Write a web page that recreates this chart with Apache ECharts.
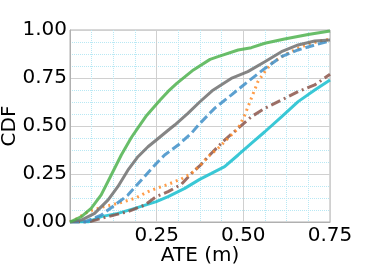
<!DOCTYPE html>
<html><head><meta charset="utf-8">
<script src="https://cdn.jsdelivr.net/npm/echarts@6/dist/echarts.min.js"></script>
<style>html,body{margin:0;padding:0;background:#fff}#c{width:374px;height:267px}</style>
</head><body><div id="c"></div>
<script>
const xTicks = [0, 0.25, 0.5, 0.75];
const yTicks = [0, 0.25, 0.5, 0.75, 1.0];

const greenX = [0, 0.033, 0.061, 0.090, 0.119, 0.148, 0.177, 0.196, 0.221, 0.260, 0.283, 0.308, 0.356, 0.404, 0.427, 0.485, 0.523, 0.562, 0.619, 0.687, 0.75];
const greenY = [0, 0.028, 0.071, 0.141, 0.245, 0.349, 0.44, 0.49, 0.555, 0.635, 0.68, 0.722, 0.792, 0.847, 0.861, 0.896, 0.908, 0.931, 0.953, 0.977, 0.995];

const grayX = [0, 0.033, 0.071, 0.110, 0.138, 0.167, 0.196, 0.225, 0.249, 0.284, 0.302, 0.340, 0.374, 0.410, 0.465, 0.513, 0.562, 0.610, 0.658, 0.706, 0.75];
const grayY = [0, 0.01, 0.045, 0.115, 0.184, 0.27, 0.34, 0.392, 0.427, 0.479, 0.505, 0.566, 0.625, 0.683, 0.748, 0.783, 0.835, 0.887, 0.922, 0.943, 0.948];

const blueX = [0, 0.042, 0.090, 0.129, 0.167, 0.206, 0.249, 0.273, 0.312, 0.350, 0.374, 0.417, 0.465, 0.513, 0.562, 0.610, 0.658, 0.706, 0.75];
const blueY = [0, 0, 0.036, 0.088, 0.14, 0.219, 0.305, 0.349, 0.401, 0.462, 0.512, 0.592, 0.661, 0.731, 0.80, 0.861, 0.896, 0.922, 0.943];

const orangeX = [0, 0.0135, 0.052, 0.090, 0.138, 0.187, 0.225, 0.249, 0.283, 0.321, 0.350, 0.374, 0.398, 0.427, 0.456, 0.485, 0.504, 0.523, 0.542, 0.562, 0.581, 0.619, 0.658, 0.696, 0.75];
const orangeY = [0, 0.01, 0.054, 0.076, 0.097, 0.123, 0.158, 0.175, 0.196, 0.224, 0.253, 0.292, 0.34, 0.384, 0.436, 0.488, 0.557, 0.644, 0.731, 0.783, 0.826, 0.87, 0.905, 0.931, 0.953];

const brownX = [0, 0.052, 0.110, 0.167, 0.215, 0.249, 0.283, 0.321, 0.355, 0.374, 0.408, 0.446, 0.485, 0.523, 0.562, 0.610, 0.658, 0.706, 0.75];
const brownY = [0, 0, 0.028, 0.054, 0.088, 0.132, 0.158, 0.196, 0.262, 0.292, 0.358, 0.427, 0.488, 0.548, 0.592, 0.635, 0.679, 0.714, 0.769];

const cyanX = [0, 0.052, 0.090, 0.138, 0.187, 0.249, 0.283, 0.331, 0.374, 0.408, 0.446, 0.485, 0.523, 0.562, 0.610, 0.658, 0.706, 0.75];
const cyanY = [0, 0, 0.028, 0.045, 0.071, 0.106, 0.132, 0.175, 0.222, 0.253, 0.288, 0.349, 0.41, 0.47, 0.548, 0.627, 0.6875, 0.74];

const pairs = (xs, ys) => xs.map((x, i) => [x, ys[i]]);
const FONT = 'DejaVu Sans';

function mk(name, xs, ys, color, type) {
  return {
    name, type: 'line', data: pairs(xs, ys), showSymbol: false, symbol: 'none',
    lineStyle: { color, width: 3, type, opacity: 0.85, cap: 'butt' },
    animation: false
  };
}

const chart = echarts.init(document.getElementById('c'), null, { renderer: 'canvas' });
chart.setOption({
  animation: false,
  backgroundColor: '#fff',
  grid: { left: 70, right: 44, top: 30, bottom: 45, containLabel: false, outerBoundsMode: 'none',
    show: true, borderColor: '#b0b0b0', borderWidth: 1, backgroundColor: 'transparent' },
  xAxis: {
    type: 'value', min: xTicks[0], max: xTicks[xTicks.length - 1], interval: 0.25,
    name: 'ATE (m)', nameLocation: 'middle', nameGap: 24, nameMoveOverlap: false,
    nameTextStyle: { fontFamily: FONT, fontSize: 20, color: '#000' },
    axisLine: { show: true, lineStyle: { color: '#b0b0b0', width: 1 } },
    axisTick: { show: false },
    axisLabel: { fontFamily: FONT, fontSize: 20, color: '#000', margin: 4,
      formatter: v => (v === 0 ? '' : v.toFixed(2)) },
    splitLine: { show: true, lineStyle: { color: '#d0d0d0', width: 1 } },
    minorTick: { show: false, splitNumber: 4 },
    minorSplitLine: { show: true, lineStyle: { color: '#b8e8f4', width: 1, type: 'dotted' } }
  },
  yAxis: {
    type: 'value', min: yTicks[0], max: yTicks[yTicks.length - 1], interval: 0.25,
    name: 'CDF', nameLocation: 'middle', nameGap: 50, nameRotate: 90, nameMoveOverlap: false,
    nameTextStyle: { fontFamily: FONT, fontSize: 20, color: '#000' },
    axisLine: { show: true, lineStyle: { color: '#b0b0b0', width: 1 } },
    axisTick: { show: false },
    axisLabel: { fontFamily: FONT, fontSize: 20, color: '#000', margin: 3,
      formatter: v => v.toFixed(2) },
    splitLine: { show: true, lineStyle: { color: '#d0d0d0', width: 1 } },
    minorTick: { show: false, splitNumber: 4 },
    minorSplitLine: { show: true, lineStyle: { color: '#b8e8f4', width: 1, type: 'dotted' } }
  },
  series: [
    mk('cyan', cyanX, cyanY, '#17becf', 'solid'),
    mk('brown', brownX, brownY, '#8c564b', [10, 4, 2, 4]),
    mk('orange', orangeX, orangeY, '#ff8c2a', [2, 4]),
    mk('blue', blueX, blueY, '#3f8fc8', [9, 4]),
    mk('gray', grayX, grayY, '#707070', 'solid'),
    mk('green', greenX, greenY, '#4fb34f', 'solid')
  ]
});
</script>
</body></html>
